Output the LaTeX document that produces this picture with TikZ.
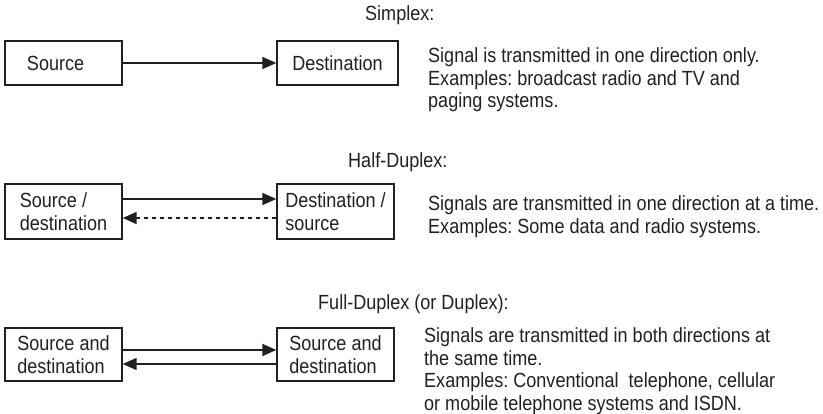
\documentclass[tikz,border=0pt]{standalone}
\usepackage{fontspec}
\setmainfont[FakeStretch=0.88]{Liberation Sans}
\usetikzlibrary{arrows.meta}
\definecolor{ink}{HTML}{231F20}
\frenchspacing
\begin{document}
\begin{tikzpicture}[x=1pt,y=-1pt,
  every node/.style={font=\fontsize{20.5}{22.6}\selectfont, text=ink},
  box/.style={draw=ink, line width=1.4pt, rectangle, align=left, inner sep=0pt, minimum width=117pt},
  desc/.style={align=left, inner sep=0pt, anchor=base west},
  ttl/.style={inner sep=0pt, anchor=base west},
  conn/.style={draw=ink, line width=1.5pt, -{Triangle[length=14pt,width=12pt]}},
  dconn/.style={conn, dash pattern=on 4pt off 4pt}]
\useasboundingbox (0,0) rectangle (823,414);
% Simplex
\node[ttl] (t1) at (365,21) {Simplex:};
\node[box, minimum height=44pt, inner xsep=22pt, text width=73pt] (s1) at (63.5,63) {Source};
\node[box, minimum width=121pt, minimum height=44pt] (d1) at (337.5,63) {Destination};
\draw[conn] (s1.east) -- (d1.west);
\node[desc] (x1) at (428,107.7) {Signal is transmitted in one direction only.\\Examples: broadcast radio and TV and\\paging systems.};
% Half duplex
\node[ttl] (t2) at (348,168) {Half-Duplex:};
\node[box, minimum height=55pt] (s2) at (63.5,211.5) {Source /\\destination};
\node[box, minimum height=55pt] (d2) at (335.5,211.5) {Destination /\\source};
\draw[conn] ([yshift=12.5pt]s2.east) -- ([yshift=12.5pt]d2.west);
\draw[dconn] ([yshift=-6.5pt]d2.west) -- ([yshift=-6.5pt]s2.east);
\node[desc] (x2) at (428,233.1) {Signals are transmitted in one direction at a time.\\Examples: Some data and radio systems.};
% Full duplex
\node[ttl] (t3) at (318,310) {Full-Duplex (or Duplex):};
\node[box, minimum height=53pt] (s3) at (63.5,354.5) {Source and\\destination};
\node[box, minimum height=53pt] (d3) at (335.5,354.5) {Source and\\destination};
\draw[conn] ([yshift=4.5pt]s3.east) -- ([yshift=4.5pt]d3.west);
\draw[conn] ([yshift=-9.5pt]d3.west) -- ([yshift=-9.5pt]s3.east);
\node[desc] (x3) at (424,410.3) {Signals are transmitted in both directions at\\the same time.\\Examples: Conventional\ \ telephone, cellular\\or mobile telephone systems and ISDN.};
\end{tikzpicture}
\end{document}
